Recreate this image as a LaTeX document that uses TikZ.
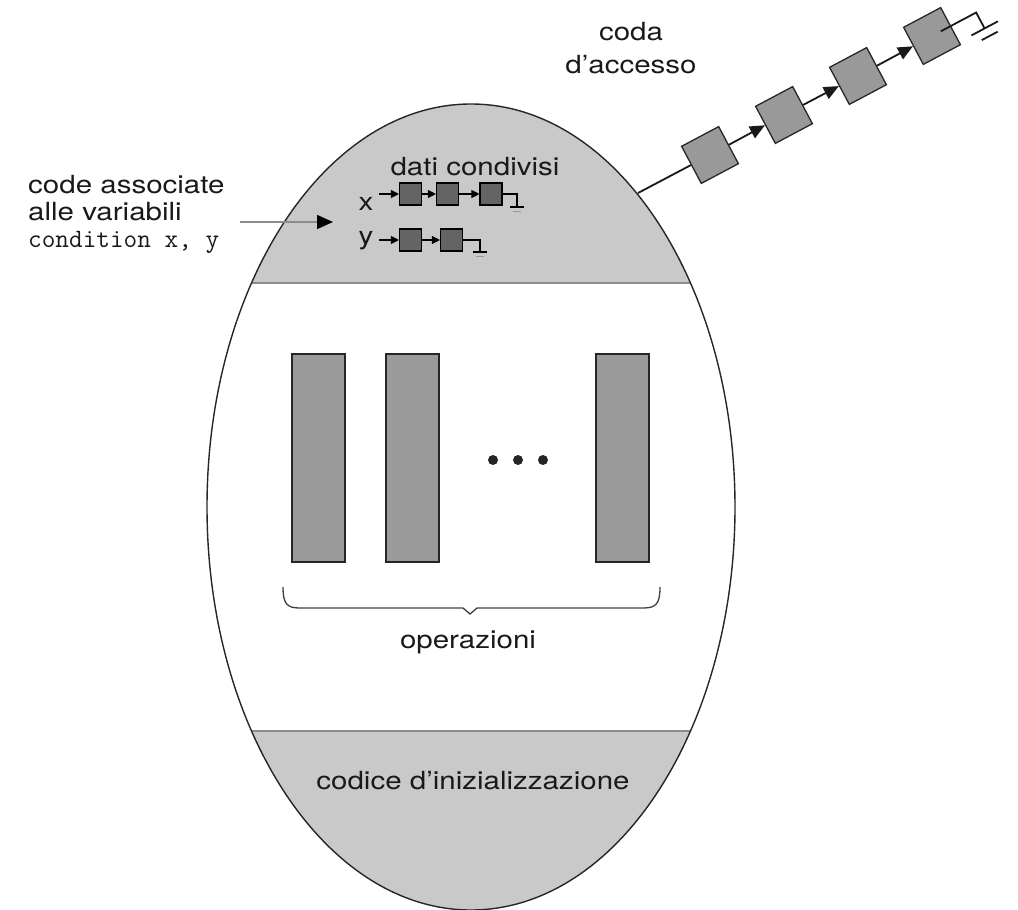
\documentclass[tikz,border=0pt]{standalone}
\usepackage{fontspec}
\setmainfont[FakeStretch=1.18]{TeX Gyre Heros}
\usetikzlibrary{arrows.meta}
\definecolor{bandgray}{HTML}{C9C9C9}
\definecolor{opgray}{HTML}{9A9A9A}
\definecolor{smgray}{HTML}{646464}
\definecolor{accgray}{HTML}{999999}
\tikzset{
  outline/.style={line width=1.4pt, draw=black!85},
  bandline/.style={line width=2pt, draw=black!45},
  opbox/.style={draw=black!85, line width=1.3pt, fill=opgray, minimum width=53pt, minimum height=208pt, inner sep=0pt},
  smsq/.style={draw=black, line width=1.1pt, fill=smgray, minimum size=22pt, inner sep=0pt},
  accsq/.style={draw=black!85, line width=1.3pt, fill=accgray, minimum size=42pt, inner sep=0pt, rotate=28},
  smline/.style={line width=1.1pt, draw=black},
  smarrow/.style={smline, -{Triangle[length=8pt,width=8pt]}},
  accline/.style={line width=1.8pt, draw=black!90},
  accarrow/.style={accline, -{Triangle[length=15pt,width=13pt]}},
  lbl/.style={inner sep=0pt, text=black!90},
}
\begin{document}
\begin{tikzpicture}[x=1pt,y=-1pt, font=\fontsize{25}{27}\selectfont]
\useasboundingbox (0,0) rectangle (1018,910);
% monitor body
\begin{scope}
  \clip (471,507) ellipse [x radius=264, y radius=403];
  \fill[bandgray] (200,100) rectangle (740,283);
  \fill[bandgray] (200,731) rectangle (740,915);
  \draw[bandline] (200,283) -- (740,283);
  \draw[bandline] (200,731) -- (740,731);
\end{scope}
\draw[outline] (471,507) ellipse [x radius=264, y radius=403];

% texts
\node[lbl, anchor=north west, align=left] (lab) at (28,175) {code associate\\alle variabili\\{\ttfamily\fontsize{26.5}{27}\selectfont condition x, y}};
\node[lbl, anchor=base] (dc) at (475,175) {dati condivisi};
\node[lbl, anchor=base] (xl) at (366,210) {x};
\node[lbl, anchor=base] (yl) at (366,244) {y};
\node[lbl, anchor=north, align=center, font=\fontsize{25}{33}\selectfont] (coda) at (631,22) {coda\\d’accesso};
\node[lbl, anchor=base] (op) at (468,648) {operazioni};
\node[lbl, anchor=base] (ci) at (473,789) {codice d’inizializzazione};

% label arrow
\coordinate (la1) at (240,222);
\coordinate (la2) at (333,222);
\draw[line width=1.6pt, draw=black!45, -{Triangle[length=16pt,width=14pt,color=black]}] (la1) -- (la2);

% x queue
\coordinate (xs) at (379,194);
\node[smsq] (x1) at (410.5,194) {};
\node[smsq] (x2) at (447.5,194) {};
\node[smsq] (x3) at (491,194) {};
\draw[smarrow] (xs) -- (x1);
\draw[smarrow] (x1) -- (x2);
\draw[smarrow] (x2) -- (x3);
\coordinate (xg) at (517,207);
\draw[smline] (x3.east) -| (xg);
\draw[smline] (510,207) -- (524,207);
\draw[line width=1pt, draw=black!40] (513,211) -- (521,211);

% y queue
\coordinate (ys) at (379,240);
\node[smsq] (y1) at (410.5,240) {};
\node[smsq] (y2) at (451.5,240) {};
\draw[smarrow] (ys) -- (y1);
\draw[smarrow] (y1) -- (y2);
\coordinate (yg) at (480,252);
\draw[smline] (y2.east) -| (yg);
\draw[smline] (473,252) -- (487,252);
\draw[line width=1pt, draw=black!40] (476,256) -- (484,256);

% access queue
\coordinate (acc) at (638,193);
\node[accsq] (q1) at (710,155) {};
\node[accsq] (q2) at (784,115) {};
\node[accsq] (q3) at (858,76) {};
\node[accsq] (q4) at (932,36) {};
\draw[accline] (acc) -- (q1);
\draw[accarrow] (q1) -- (q2);
\draw[accarrow] (q2) -- (q3);
\draw[accarrow] (q3) -- (q4);
\begin{scope}[shift={(q4.center)}, rotate=28]
  \coordinate (qs) at (10,0);
  \coordinate (qe) at (50,0);
  \coordinate (qd) at (50,18);
  \draw[accline] (qs) -- (qe) -- (qd);
  \draw[accline] (35,18) -- (65,18);
  \draw[accline] (42,27) -- (60,27);
\end{scope}

% operations
\node[opbox] (r1) at (318.5,458) {};
\node[opbox] (r2) at (412.5,458) {};
\node[opbox] (r3) at (622.5,458) {};
\fill[black!85] (493,460) circle (5) (518,460) circle (5) (543,460) circle (5);

% brace
\draw[line width=1.3pt, draw=black!75] (283,587) .. controls (283,604) and (287,608) .. (300,608)
  -- (463,608) -- (470,614) -- (477,608) -- (643,608) .. controls (656,608) and (660,604) .. (660,587);
\end{tikzpicture}
\end{document}
